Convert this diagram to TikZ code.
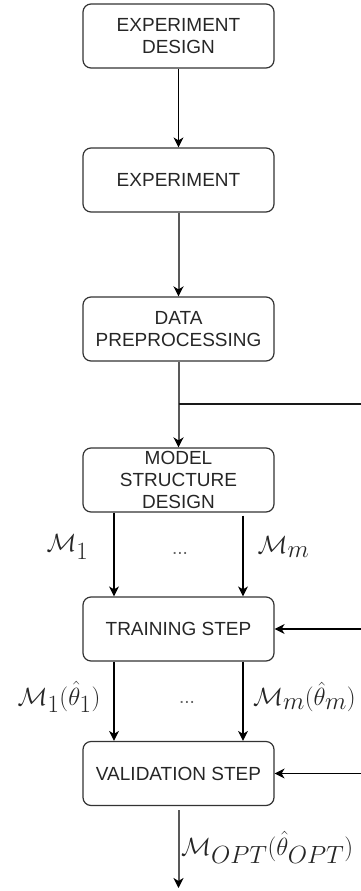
\documentclass[tikz,border=0pt]{standalone}
\usepackage{fontspec}
\usepackage{amsmath}
\newfontfamily\boxfont{Liberation Sans}
\usetikzlibrary{arrows.meta}
\tikzset{
  stepbox/.style={draw=black!80, line width=1.2pt, rounded corners=8pt,
    minimum width=191pt, minimum height=64pt, inner sep=0pt, align=center,
    text=black!85, font=\boxfont\fontsize{19}{21.7}\selectfont},
  arr/.style={draw=black, line width=1.3pt, -{Stealth[length=10pt,width=10pt,inset=3pt]}},
  garr/.style={draw=black!65, line width=2pt, -{Stealth[length=10pt,width=10pt,inset=3pt,color=black]}},
  plain/.style={draw=black!90, line width=1.3pt},
  mlab/.style={inner sep=0pt, font=\fontsize{33.5}{38}\selectfont, text=black!85},
  dotlab/.style={inner sep=0pt, font=\boxfont\fontsize{19}{21.7}\selectfont, text=black!60}
}
\begin{document}
\begin{tikzpicture}[x=1pt,y=-1pt]
\useasboundingbox (0,0) rectangle (361,891);
\node[stepbox] (b1) at (178.5,36) {EXPERIMENT\\DESIGN};
\node[stepbox] (b2) at (178.5,180) {EXPERIMENT};
\node[stepbox] (b3) at (178.5,329) {DATA\\PREPROCESSING};
\node[stepbox] (b4) at (178.5,480) {MODEL\\STRUCTURE\\DESIGN};
\node[stepbox] (b5) at (178.5,629) {TRAINING STEP};
\node[stepbox] (b6) at (178.5,773.5) {VALIDATION STEP};

\coordinate (j) at (178.5,404);
\coordinate (r0) at (361,404);
\coordinate (r1) at (361,629);
\coordinate (r2) at (361,773.5);
\coordinate (out) at (178.5,888);

\draw[arr] (b1) -- (b2);
\draw[garr] (b2) -- (b3);
\draw[garr] (b3) -- (b4);
\draw[plain] (j) -- (r0);

\draw[arr] ([xshift=-64.5pt]b4.south) -- ([xshift=-64.5pt]b5.north);
\draw[arr] ([xshift=64.5pt,yshift=-3pt]b4.south) -- ([xshift=64.5pt]b5.north);
\draw[arr] ([xshift=-64.5pt]b5.south) -- ([xshift=-64.5pt]b6.north);
\draw[arr] ([xshift=64.5pt]b5.south) -- ([xshift=64.5pt]b6.north);

\draw[arr] (r1) -- (b5.east);
\draw[arr] (r2) -- (b6.east);
\draw[garr] ([yshift=-4pt]b6.south) -- (out);

\node[mlab] (l1) at (67.5,547) {$\mathcal{M}_1$};
\node[dotlab] (d1) at (180,553) {...};
\node[mlab] (l2) at (283.5,547) {$\mathcal{M}_m$};
\node[mlab] (l3) at (59,697) {$\mathcal{M}_1(\hat{\theta}_1)$};
\node[dotlab] (d2) at (187,702) {...};
\node[mlab, anchor=west] (l4) at (253,697) {$\mathcal{M}_m(\hat{\theta}_m)$};
\node[mlab, anchor=west] (l5) at (181,847.5) {$\mathcal{M}_{OPT}(\hat{\theta}_{OPT})$};
\end{tikzpicture}
\end{document}
